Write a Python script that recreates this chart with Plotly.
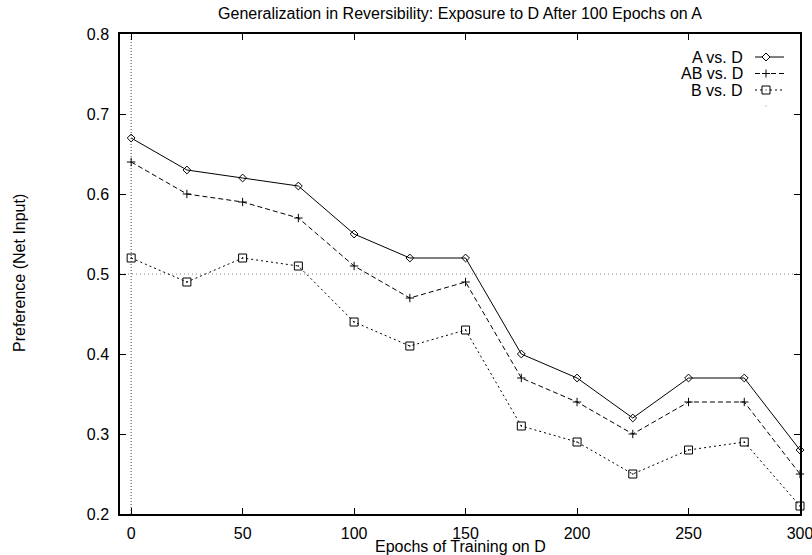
import plotly.graph_objects as go

epochs = [0, 25, 50, 75, 100, 125, 150, 175, 200, 225, 250, 275, 300]
a_vs_d = [0.67, 0.63, 0.62, 0.61, 0.55, 0.52, 0.52, 0.40, 0.37, 0.32, 0.37, 0.37, 0.28]
ab_vs_d = [0.64, 0.60, 0.59, 0.57, 0.51, 0.47, 0.49, 0.37, 0.34, 0.30, 0.34, 0.34, 0.25]
b_vs_d = [0.52, 0.49, 0.52, 0.51, 0.44, 0.41, 0.43, 0.31, 0.29, 0.25, 0.28, 0.29, 0.21]
series_names = ["A vs. D", "AB vs. D", "B vs. D"]
x_ticks = [0, 50, 100, 150, 200, 250, 300]
y_ticks = [0.2, 0.3, 0.4, 0.5, 0.6, 0.7, 0.8]

FONT = "Liberation Sans, Arial, sans-serif"
FS = 16
styles = [
    dict(dash="solid", symbol="diamond-open", size=6),
    dict(dash="5px,3px", symbol="cross-thin-open", size=6),
    dict(dash="2px,3px", symbol="square-open-dot", size=8),
]

fig = go.Figure()
for name, ys, st in zip(series_names, [a_vs_d, ab_vs_d, b_vs_d], styles):
    fig.add_trace(go.Scatter(
        x=epochs, y=ys, name=name, mode="lines+markers",
        line=dict(color="black", width=1, dash=st["dash"]),
        marker=dict(symbol=st["symbol"], size=st["size"], color="black",
                    line=dict(color="black", width=1)),
        showlegend=False, cliponaxis=False,
    ))

# reference dotted lines
fig.add_shape(type="line", xref="x", yref="paper", x0=0, x1=0, y0=0, y1=1,
              line=dict(color="#444", width=1, dash="1px,2px"), layer="below")
fig.add_shape(type="line", xref="paper", yref="y", x0=0, x1=1, y0=0.5, y1=0.5,
              line=dict(color="#888", width=1, dash="1px,3px"), layer="below")

W, H = 812, 555
L, R, T, B = 120, 12, 34, 41
pw, ph = W - L - R, H - T - B
def px(xp):
    return (xp - L) / pw
def py(yp):
    return 1 - (yp - T) / ph

# custom gnuplot-style legend (text left, sample right)
rows = [57, 73.5, 90]
for name, st, yy in zip(series_names, styles, rows):
    fig.add_annotation(x=px(745), y=py(yy), xref="paper", yref="paper",
                       text=name, showarrow=False, xanchor="right", yanchor="middle",
                       font=dict(family=FONT, size=FS, color="black"))
    fig.add_shape(type="line", xref="paper", yref="paper",
                  x0=px(755), x1=px(784), y0=py(yy), y1=py(yy),
                  line=dict(color="black", width=1, dash=st["dash"]))
cx = 766
yy = rows[0]
fig.add_shape(type="path", xref="paper", yref="paper",
              path=f"M {px(cx-4)} {py(yy)} L {px(cx)} {py(yy-4)} L {px(cx+4)} {py(yy)} L {px(cx)} {py(yy+4)} Z",
              line=dict(color="black", width=1), fillcolor="white")
yy = rows[1]
fig.add_shape(type="line", xref="paper", yref="paper", x0=px(cx), x1=px(cx),
              y0=py(yy-4), y1=py(yy+4), line=dict(color="black", width=1))
fig.add_shape(type="line", xref="paper", yref="paper", x0=px(cx-4), x1=px(cx+4),
              y0=py(yy), y1=py(yy), line=dict(color="black", width=1))
yy = rows[2]
fig.add_shape(type="rect", xref="paper", yref="paper", x0=px(cx-4), x1=px(cx+4),
              y0=py(yy-4), y1=py(yy+4), line=dict(color="black", width=1), fillcolor="white")
fig.add_shape(type="rect", xref="paper", yref="paper", x0=px(cx-0.5), x1=px(cx+0.5),
              y0=py(yy-0.5), y1=py(yy+0.5), line=dict(color="black", width=0), fillcolor="black")
fig.add_shape(type="rect", xref="paper", yref="paper", x0=px(cx-0.5), x1=px(cx+0.5),
              y0=py(105.5), y1=py(106.5), line=dict(color="#888", width=0), fillcolor="#888")

fig.update_layout(
    width=W, height=H,
    margin=dict(l=L, r=R, t=T, b=B, autoexpand=False),
    paper_bgcolor="white", plot_bgcolor="white",
    font=dict(family=FONT, size=FS, color="black"),
    title=dict(text="Generalization in Reversibility: Exposure to D After 100 Epochs on A",
               x=(120 + 800) / 2 / W, xanchor="center", y=1 - 13 / H, yanchor="middle",
               font=dict(family=FONT, size=FS)),
    xaxis=dict(range=[-5, 300], tickvals=x_ticks, ticks="inside", ticklen=6,
               tickcolor="black", showline=True, linecolor="black", linewidth=1.5,
               mirror="ticks", showgrid=False, zeroline=False,
               ticklabelstandoff=4, ticklabeloverflow="allow", tickfont=dict(size=FS)),
    yaxis=dict(range=[0.2, 0.8], tickvals=y_ticks, tickformat=".1f", ticks="inside",
               ticklen=6, tickcolor="black", showline=True, linecolor="black",
               linewidth=1.5, mirror="ticks", showgrid=False, zeroline=False,
               ticklabelstandoff=6, ticklabeloverflow="allow", tickfont=dict(size=FS)),
)
fig.add_annotation(x=px(460), y=py(546), xref="paper", yref="paper",
                   text="Epochs of Training on D", showarrow=False,
                   xanchor="center", yanchor="middle",
                   font=dict(family=FONT, size=FS))
fig.add_annotation(x=px(19), y=py(273), xref="paper", yref="paper",
                   text="Preference (Net Input)", showarrow=False, textangle=-90,
                   xanchor="center", yanchor="middle",
                   font=dict(family=FONT, size=FS))

fig.write_html("out.html", config={"displayModeBar": False},
               post_script="document.body.style.margin='0px';")
